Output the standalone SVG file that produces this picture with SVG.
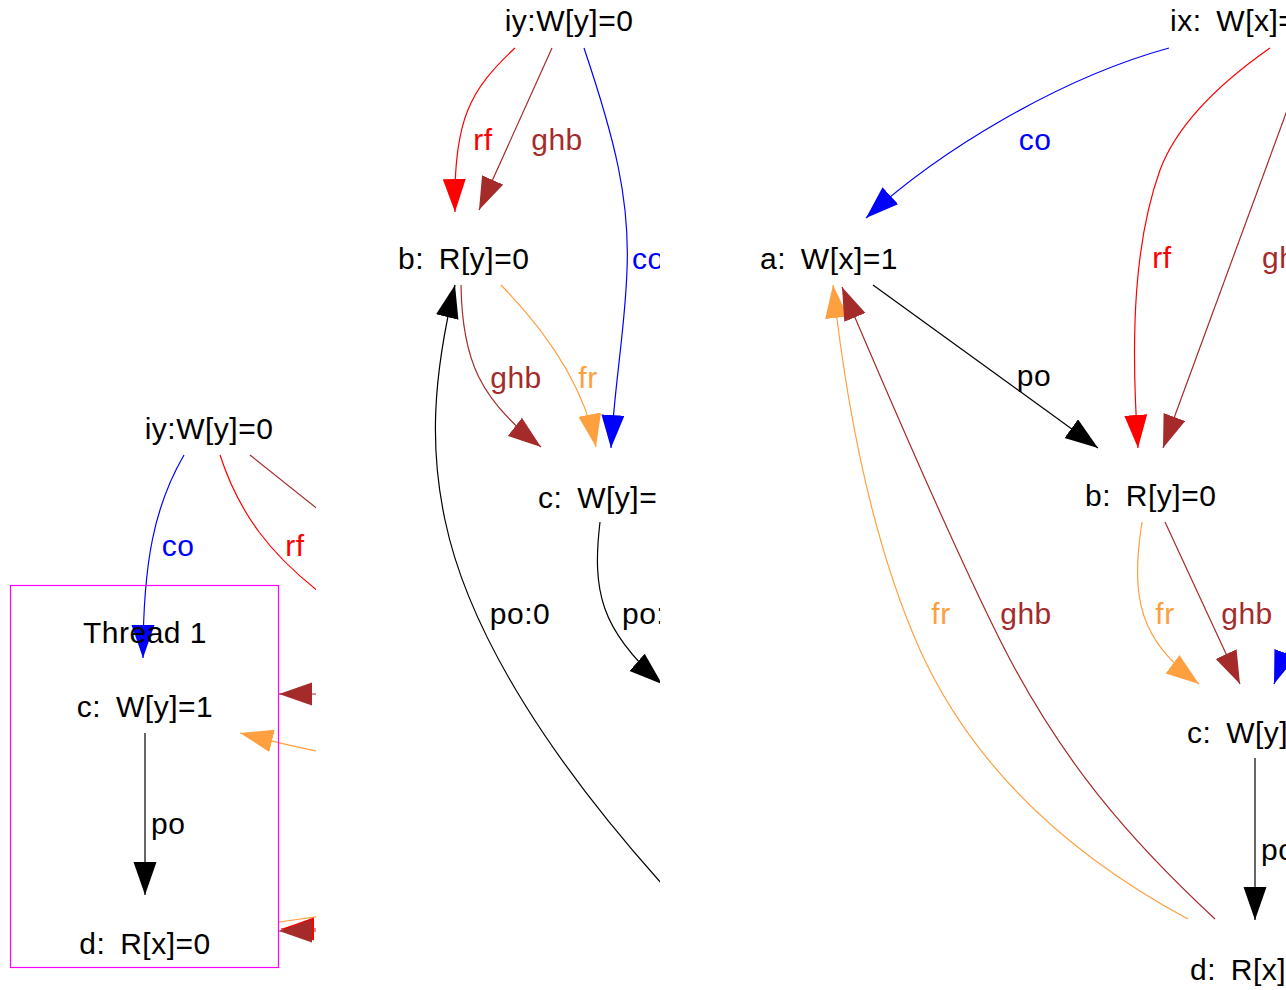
<svg xmlns="http://www.w3.org/2000/svg" width="1286" height="990" viewBox="0 0 1286 990">
<style>
text{font-family:"Liberation Sans",Arial,sans-serif;font-size:30px;fill:#000;letter-spacing:0.5px}
.m{text-anchor:middle}
.ws{word-spacing:6px}
.e{fill:none;stroke-width:1.2}
.k{stroke:#000}.r{stroke:#ff0000}.b{stroke:#a52a2a}.u{stroke:#0000ff}.o{stroke:#ffa040}
.tr{fill:#ff0000}.tb{fill:#a52a2a}.tu{fill:#0000ff}.to{fill:#ffa040}
</style>
<defs>
<clipPath id="c1"><rect x="0" y="0" width="316" height="990"/></clipPath>
<clipPath id="c2"><rect x="316" y="0" width="344" height="990"/></clipPath>
<clipPath id="c3"><rect x="660" y="0" width="626" height="990"/></clipPath>
<marker id="ak" markerUnits="userSpaceOnUse" markerWidth="34" markerHeight="24" refX="33" refY="11.5" orient="auto"><path d="M0,0 L33,11.5 L0,23 z" fill="#000"/></marker>
<marker id="ar" markerUnits="userSpaceOnUse" markerWidth="34" markerHeight="24" refX="33" refY="11.5" orient="auto"><path d="M0,0 L33,11.5 L0,23 z" fill="#ff0000"/></marker>
<marker id="ab" markerUnits="userSpaceOnUse" markerWidth="34" markerHeight="24" refX="33" refY="11.5" orient="auto"><path d="M0,0 L33,11.5 L0,23 z" fill="#a52a2a"/></marker>
<marker id="au" markerUnits="userSpaceOnUse" markerWidth="34" markerHeight="24" refX="33" refY="11.5" orient="auto"><path d="M0,0 L33,11.5 L0,23 z" fill="#0000ff"/></marker>
<marker id="ao" markerUnits="userSpaceOnUse" markerWidth="34" markerHeight="24" refX="33" refY="11.5" orient="auto"><path d="M0,0 L33,11.5 L0,23 z" fill="#ffa040"/></marker>
</defs>
<rect width="1286" height="990" fill="#fff"/>

<!-- Panel 1 -->
<g id="panel1" clip-path="url(#c1)">
  <g id="p1-connectors">
    <path class="e u" d="M184,455 C155,505 143,560 143,658" marker-end="url(#au)"/>
    <path class="e r" d="M220,455 C238,510 268,555 330,600"/>
    <path class="e b" d="M250,455 L340,527"/>
    <path class="e b" d="M345,694 L279,694" marker-end="url(#ab)"/>
    <path class="e o" d="M330,753 C305,750 285,744 240,733" marker-end="url(#ao)"/>
    <path class="e o" d="M330,915 L279,922"/>
    <path class="e r" d="M345,929 L281,929" marker-end="url(#ar)"/>
    <path class="e b" d="M345,931 L279,931" marker-end="url(#ab)"/>
    <path class="e k" d="M145,733 L145,895" marker-end="url(#ak)"/>
    <text class="m tu" x="178" y="556">co</text>
    <text class="m tr" x="295" y="556">rf</text>
    <text x="151" y="834">po</text>
  </g>
  <g id="p1-thread1">
    <rect x="10.5" y="585.5" width="268" height="382" fill="none" stroke="#ff00ff" stroke-width="1.2"/>
    <text class="m" x="145" y="643">Thread 1</text>
  </g>
  <g id="p1-iy"><text class="m" x="209" y="439">iy:W[y]=0</text></g>
  <g id="p1-c"><text class="m ws" x="145" y="717">c: W[y]=1</text></g>
  <g id="p1-d"><text class="m ws" x="145" y="954">d: R[x]=0</text></g>
</g>

<!-- Panel 2 -->
<g id="panel2" clip-path="url(#c2)">
  <g id="p2-connectors">
    <path class="e r" d="M515,48 C470,90 453,120 455,212" marker-end="url(#ar)"/>
    <path class="e b" d="M552,48 L479,210" marker-end="url(#ab)"/>
    <path class="e u" d="M584,48 C615,140 630,200 627,270 C625,330 615,380 611,448" marker-end="url(#au)"/>
    <path class="e k" d="M662,884 C560,770 470,640 445,520 C430,450 432,380 455,285" marker-end="url(#ak)"/>
    <path class="e b" d="M461,285 C462,360 480,400 541,447" marker-end="url(#ab)"/>
    <path class="e o" d="M501,285 C550,335 585,390 596,447" marker-end="url(#ao)"/>
    <path class="e k" d="M600,522 C592,590 600,630 662,684" marker-end="url(#ak)"/>
    <text class="m tr" x="483" y="150">rf</text>
    <text class="m tb" x="557" y="150">ghb</text>
    <text class="tu" x="632" y="269">co</text>
    <text class="m tb" x="516" y="388">ghb</text>
    <text class="m to" x="588" y="388">fr</text>
    <text class="m" x="520" y="624">po:0</text>
    <text x="622" y="624">po:</text>
  </g>
  <g id="p2-iy"><text class="m" x="569" y="31">iy:W[y]=0</text></g>
  <g id="p2-b"><text class="ws" x="398" y="269">b: R[y]=0</text></g>
  <g id="p2-c"><text class="ws" x="538" y="508">c: W[y]=</text></g>
</g>

<!-- Panel 3 -->
<g id="panel3" clip-path="url(#c3)">
  <g id="p3-connectors">
    <path class="e u" d="M1169,48 C1060,78 940,150 866,218" marker-end="url(#au)"/>
    <path class="e r" d="M1270,48 C1210,90 1175,130 1160,170 C1135,240 1130,330 1138,448" marker-end="url(#ar)"/>
    <path class="e b" d="M1310,48 L1163,448" marker-end="url(#ab)"/>
    <path class="e k" d="M873,285 L1098,448" marker-end="url(#ak)"/>
    <path class="e o" d="M1142,522 C1130,600 1140,640 1199,684" marker-end="url(#ao)"/>
    <path class="e b" d="M1165,522 L1240,684" marker-end="url(#ab)"/>
    <path class="e u" d="M1340,500 C1320,580 1290,640 1274,684" marker-end="url(#au)"/>
    <path class="e k" d="M1255,758 L1255,920" marker-end="url(#ak)"/>
    <path class="e o" d="M1188,919 C1060,850 970,760 920,650 C880,560 850,440 833,285" marker-end="url(#ao)"/>
    <path class="e b" d="M1215,919 C1130,840 1060,760 1000,640 C950,540 890,400 842,287" marker-end="url(#ab)"/>
    <text class="m tu" x="1035" y="150">co</text>
    <text class="m tr" x="1162" y="268">rf</text>
    <text class="tb" x="1262" y="268">gh</text>
    <text class="m" x="1034" y="386">po</text>
    <text class="m to" x="941" y="624">fr</text>
    <text class="m tb" x="1026" y="624">ghb</text>
    <text class="m to" x="1165" y="624">fr</text>
    <text class="m tb" x="1247" y="624">ghb</text>
    <text x="1261" y="860">po</text>
  </g>
  <g id="p3-ix"><text class="ws" x="1170" y="31">ix: W[x]=</text></g>
  <g id="p3-a"><text class="ws" x="760" y="269">a: W[x]=1</text></g>
  <g id="p3-b"><text class="ws" x="1085" y="506">b: R[y]=0</text></g>
  <g id="p3-c"><text class="ws" x="1187" y="743">c: W[y]=</text></g>
  <g id="p3-d"><text class="ws" x="1190" y="980">d: R[x]=</text></g>
</g>
</svg>
